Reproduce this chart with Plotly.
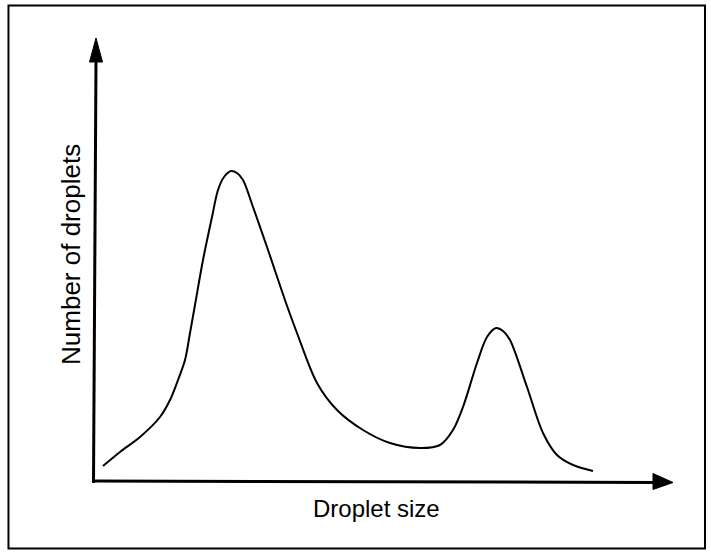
import plotly.graph_objects as go

# Curve (x: droplet size units, y: number of droplets units)
droplet_size = [8, 25, 45, 65, 75, 83, 90, 95, 100, 108, 117, 123, 129, 136, 142, 148,
                158, 172, 191, 202, 222, 242, 268, 295, 325, 345, 358, 368, 382, 392,
                401, 408, 415, 432, 448, 462, 478, 498]
droplet_count = [16, 30, 45, 65, 82, 102, 122, 149, 177, 222, 265, 292, 305, 311, 309, 302,
                 275, 235, 179, 149, 99, 72, 52, 39, 34, 37, 52, 75, 119, 145,
                 154, 151, 142, 95, 49, 27, 17, 11]

x_title = "Droplet size"
y_title = "Number of droplets"

FONT = "Liberation Sans, Arial, sans-serif"

fig = go.Figure()
fig.add_trace(go.Scatter(
    x=droplet_size, y=droplet_count, mode="lines",
    line=dict(color="black", width=2, shape="spline", smoothing=0.9),
    hoverinfo="skip", showlegend=False,
))

shapes = [
    # outer frame
    dict(type="rect", xref="paper", yref="paper", x0=-0.1073, x1=1.0161, y0=-0.0969, y1=1.0344,
         line=dict(color="black", width=2), fillcolor="rgba(0,0,0,0)", layer="above"),
    # y axis shaft
    dict(type="line", xref="x", yref="y", x0=-1.5, y0=-1, x1=1, y1=422,
         line=dict(color="black", width=3)),
    # y arrow head
    dict(type="path", xref="x", yref="y", path="M -5.5,420 L 7.5,420 L 1,444 Z",
         fillcolor="black", line=dict(color="black", width=1)),
    # x axis shaft
    dict(type="line", xref="x", yref="y", x0=-2, y0=1, x1=560, y1=-0.5,
         line=dict(color="black", width=3)),
    # x arrow head
    dict(type="path", xref="x", yref="y", path="M 558,8.5 L 558,-7.5 L 578,-0.5 Z",
         fillcolor="black", line=dict(color="black", width=1)),
]

annotations = [
    dict(text=x_title, xref="paper", yref="paper", x=0.487, y=-0.0125,
         xanchor="center", yanchor="middle", showarrow=False,
         font=dict(family=FONT, size=24, color="black")),
    dict(text=y_title, xref="paper", yref="paper", x=-0.0065, y=0.5167,
         xanchor="center", yanchor="middle", showarrow=False, textangle=-90,
         font=dict(family=FONT, size=26, color="black")),
]

fig.update_layout(
    width=711, height=552,
    margin=dict(l=75, r=16, t=22, b=50),
    paper_bgcolor="white", plot_bgcolor="white",
    xaxis=dict(range=[-20, 600], visible=False, fixedrange=True),
    yaxis=dict(range=[-20, 460], visible=False, fixedrange=True),
    shapes=shapes, annotations=annotations,
    font=dict(family=FONT),
)

fig.write_html(
    "out.html",
    config={"displayModeBar": False},
    post_script="document.body.style.margin='0';document.body.style.overflow='hidden';",
)
